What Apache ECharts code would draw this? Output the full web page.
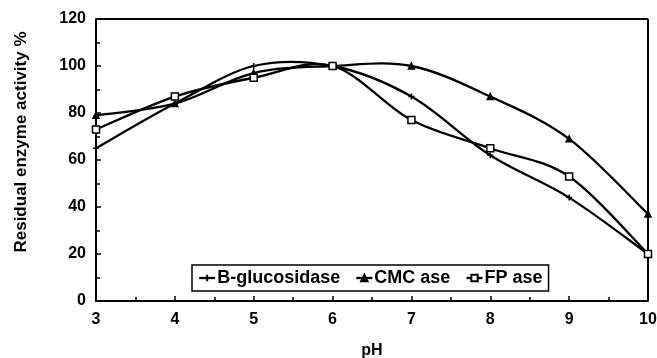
<!DOCTYPE html>
<html><head><meta charset="utf-8">
<script src="https://cdn.jsdelivr.net/npm/echarts@6/dist/echarts.min.js"></script>
<style>html,body{margin:0;padding:0;background:#fff}#c{width:657px;height:358px}</style>
</head><body><div id="c"></div>
<script>
const pH = [3, 4, 5, 6, 7, 8, 9, 10];
const bGlucosidase = [65, 84, 100, 100, 87, 62, 44, 20];
const cmcAse = [79, 84, 97, 100, 100, 87, 69, 37];
const fpAse = [73, 87, 95, 100, 77, 65, 53, 20];
const yTicks = [0, 20, 40, 60, 80, 100, 120];
const seriesNames = ['B-glucosidase', 'CMC ase', 'FP ase'];

const font = 'Liberation Sans, Arial, sans-serif';
const pair = v => pH.map((x, i) => [x, v[i]]);
const crossPath = 'path://M0,5H10M5,0V10';
const LW = 2.3;
const chart = echarts.init(document.getElementById('c'));

// Catmull-Rom smoothed curve through the points, positioned via the axis scales (api.coord)
function curveSeries(values) {
  return {
    type: 'custom', silent: true, z: 2,
    data: pair(values),
    renderItem: (params, api) => {
      if (params.dataIndex !== 0) return null;
      const P = pH.map((x, i) => api.coord([x, values[i]]));
      const n = P.length;
      let d = 'M' + P[0][0] + ',' + P[0][1];
      for (let i = 0; i < n - 1; i++) {
        const p0 = P[Math.max(i - 1, 0)], p1 = P[i], p2 = P[i + 1], p3 = P[Math.min(i + 2, n - 1)];
        const c1 = [p1[0] + (p2[0] - p0[0]) / 6, p1[1] + (p2[1] - p0[1]) / 6];
        const c2 = [p2[0] - (p3[0] - p1[0]) / 6, p2[1] - (p3[1] - p1[1]) / 6];
        d += 'C' + c1[0] + ',' + c1[1] + ' ' + c2[0] + ',' + c2[1] + ' ' + p2[0] + ',' + p2[1];
      }
      return { type: 'path', shape: { pathData: d }, style: { stroke: '#000', lineWidth: LW, fill: null } };
    }
  };
}
const mk = (name, data, symbol, size, fill) => ({
  name, type: 'line', data: pair(data),
  symbol, symbolSize: size, showSymbol: true, z: 3,
  lineStyle: { color: '#000', width: 0, opacity: 0 },
  itemStyle: { color: fill, borderColor: '#000', borderWidth: 1.5 },
  emphasis: { disabled: true }
});
const legendItem = name => ({ name, lineStyle: { color: '#000', width: LW, opacity: 1 } });
chart.setOption({
  animation: false,
  grid: { left: 96, right: 9, top: 19, bottom: 57, outerBoundsMode: 'none', containLabel: false },
  xAxis: {
    type: 'value', min: 3, max: 10, interval: 1,
    name: 'pH', nameLocation: 'middle', nameGap: 42,
    nameTextStyle: { fontFamily: font, fontWeight: 'bold', fontSize: 16, color: '#000' },
    axisLine: { lineStyle: { color: '#000', width: 2 } },
    axisTick: { inside: true, length: 5, lineStyle: { color: '#000', width: 1.5 } },
    minorTick: { show: true, splitNumber: 2, length: 4, lineStyle: { color: '#000', width: 1.5 } },
    axisLabel: { fontFamily: font, fontWeight: 'bold', fontSize: 16, color: '#000', margin: 11,
      formatter: v => String(v) },
    splitLine: { show: false }
  },
  yAxis: {
    type: 'value', min: yTicks[0], max: yTicks[yTicks.length - 1], interval: 20,
    name: 'Residual enzyme activity %', nameLocation: 'middle', nameGap: 66, nameRotate: 90,
    nameTextStyle: { fontFamily: font, fontWeight: 'bold', fontSize: 17, color: '#000', padding: [0, 0, 0, 36] },
    axisLine: { show: true, lineStyle: { color: '#000', width: 2 } },
    axisTick: { show: true, inside: true, length: 5, lineStyle: { color: '#000', width: 1.5 } },
    minorTick: { show: true, splitNumber: 2, length: 4, lineStyle: { color: '#000', width: 1.5 } },
    axisLabel: { fontFamily: font, fontWeight: 'bold', fontSize: 16, color: '#000', margin: 10 },
    splitLine: { show: false }
  },
  legend: {
    left: 192, top: 265,
    backgroundColor: '#fff',
    borderColor: '#000', borderWidth: 1.5, borderRadius: 0,
    padding: [4, 6, 4, 6], itemGap: 15, itemWidth: 16, itemHeight: 8,
    textStyle: { fontFamily: font, fontWeight: 'bold', fontSize: 18, color: '#000', padding: [0, 0, 0, -3] },
    data: seriesNames.map(legendItem)
  },
  series: [
    curveSeries(bGlucosidase), curveSeries(cmcAse), curveSeries(fpAse),
    mk(seriesNames[0], bGlucosidase, crossPath, 6, '#000'),
    mk(seriesNames[1], cmcAse, 'triangle', 6, '#000'),
    mk(seriesNames[2], fpAse, 'rect', 7, '#fff')
  ],
  graphic: [
    { type: 'line', shape: { x1: 96, y1: 19, x2: 648, y2: 19 }, style: { stroke: '#000', lineWidth: 2 } },
    { type: 'line', shape: { x1: 648, y1: 19, x2: 648, y2: 301 }, style: { stroke: '#000', lineWidth: 2 } }
  ]
});
</script></body></html>
